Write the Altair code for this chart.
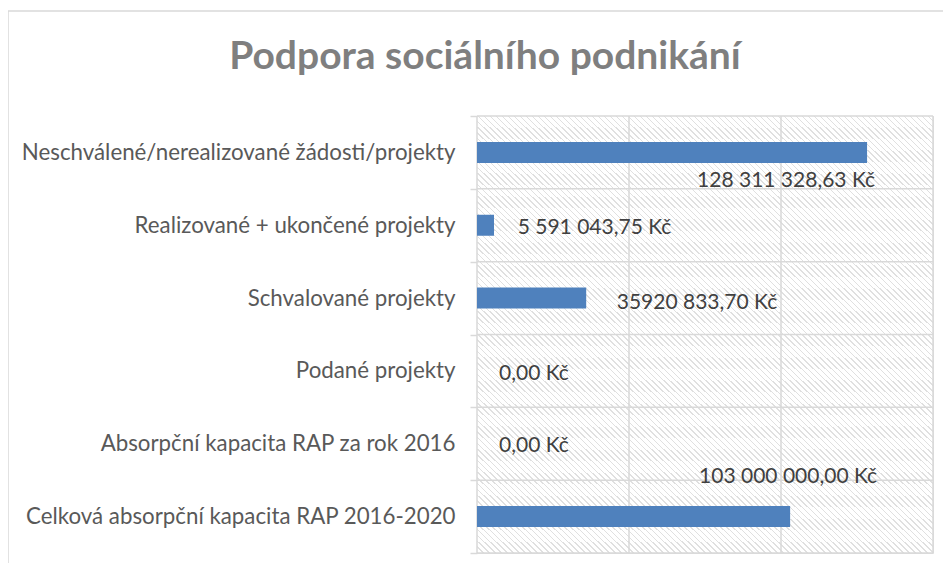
import altair as alt
import pandas as pd

# ---- data ----
categories = [
    "Neschválené/nerealizované žádosti/projekty",
    "Realizované + ukončené projekty",
    "Schvalované projekty",
    "Podané projekty",
    "Absorpční kapacita RAP za rok 2016",
    "Celková absorpční kapacita RAP 2016-2020",
]
values = [128311328.63, 5591043.75, 35920833.70, 0.0, 0.0, 103000000.0]
value_labels = [
    "128 311 328,63 Kč",
    "5 591 043,75 Kč",
    "35920 833,70 Kč",
    "0,00 Kč",
    "0,00 Kč",
    "103 000 000,00 Kč",
]
x_grid_values = [0, 50000000, 100000000, 150000000]
x_max = 150000000
title_text = "Podpora sociálního podnikání"

# ---- styles ----
FONT = "Lato"
GRID = "#d9d9d9"
BAR = "#4F81BD"
W, H = 456, 437

# label placement (style): (align, dx, dy) relative to bar end / band centre
label_style = [
    ("right", 8, 34.5),
    ("left", 23.7, 8.7),
    ("left", 30.5, 10.7),
    ("left", 22, 9.5),
    ("left", 22, 8.2),
    ("right", 87, -33.7),
]

df = pd.DataFrame({"category": categories, "value": values, "label": value_labels})
grid_df = pd.DataFrame({"g": x_grid_values})

xscale = alt.Scale(domain=[0, x_max], nice=False, zero=True)
yscale = alt.Scale(paddingInner=0, paddingOuter=0)

# hatched background via striped linear gradient
N = 152
w = 0.25
HATCH = "#e0e0e0"
stops = [alt.GradientStop(color="white", offset=0)]
for i in range(N):
    t0 = i / N
    t1 = (i + w) / N
    stops += [
        alt.GradientStop(color="white", offset=t0),
        alt.GradientStop(color=HATCH, offset=t0),
        alt.GradientStop(color=HATCH, offset=t1),
        alt.GradientStop(color="white", offset=t1),
    ]
stops.append(alt.GradientStop(color="white", offset=1))
hatch_grad = alt.LinearGradient(gradient="linear", stops=stops, x1=0, y1=1, x2=1, y2=0)

one = alt.Data(values=[{}])

frame = alt.Chart(one).mark_rect(fillOpacity=0, stroke=GRID, strokeWidth=1.5).encode(
    x=alt.value(-469), x2=alt.value(700), y=alt.value(-105), y2=alt.value(700)
)

title = alt.Chart(alt.Data(values=[{"t": title_text}])).mark_text(
    font=FONT, fontSize=39, fontWeight="bold", color="#7f7f7f",
    align="center", baseline="alphabetic",
).encode(x=alt.value(8), y=alt.value(-47), text="t:N")

hatch = alt.Chart(one).mark_rect(fill=hatch_grad).encode(
    x=alt.value(0), x2=alt.value("width"), y=alt.value(0), y2=alt.value("height")
)

vgrid = alt.Chart(grid_df).mark_rule(color=GRID, strokeWidth=1.5).encode(
    x=alt.X("g:Q", scale=xscale, axis=None)
)

yaxis = alt.Axis(
    title=None,
    grid=False,
    domain=False,
    ticks=True,
    tickBand="extent",
    tickSize=7,
    tickColor=GRID,
    tickWidth=1.5,
    labelFont=FONT,
    labelFontSize=22.3,
    labelColor="#595959",
    labelPadding=15,
    labelLimit=0,
)

hgrid = alt.Chart(df).mark_rule(color=GRID, strokeWidth=1.5).encode(
    y=alt.Y("category:N", sort=categories, bandPosition=0, scale=yscale, axis=yaxis)
)
hgrid_bottom = alt.Chart(one).mark_rule(color=GRID, strokeWidth=1.5).encode(
    y=alt.value("height")
)

bars = alt.Chart(df).mark_bar(color=BAR, size=21).encode(
    x=alt.X("value:Q", scale=xscale, axis=None),
    y=alt.Y("category:N", sort=categories, scale=yscale, axis=yaxis),
)

label_layers = []
for cat, (align, dx, dy) in zip(categories, label_style):
    label_layers.append(
        alt.Chart(df)
        .transform_filter(alt.datum.category == cat)
        .mark_text(
            align=align,
            baseline="alphabetic",
            dx=dx,
            dy=dy,
            font=FONT,
            fontSize=21,
            color="#404040",
        )
        .encode(
            x=alt.X("value:Q", scale=xscale, axis=None),
            y=alt.Y("category:N", sort=categories, scale=yscale, axis=yaxis),
            text="label:N",
        )
    )

chart = (
    alt.layer(frame, title, hatch, vgrid, hgrid, hgrid_bottom, bars, *label_layers)
    .properties(
        width=W,
        height=H,
        autosize=alt.AutoSizeParams(type="none"),
        padding={"left": 469, "top": 108, "right": 10, "bottom": 10},
    )
    .configure_view(stroke=None)
    .configure(background="white")
)

chart.save("out.html", embed_options={"renderer": "svg", "actions": False})
